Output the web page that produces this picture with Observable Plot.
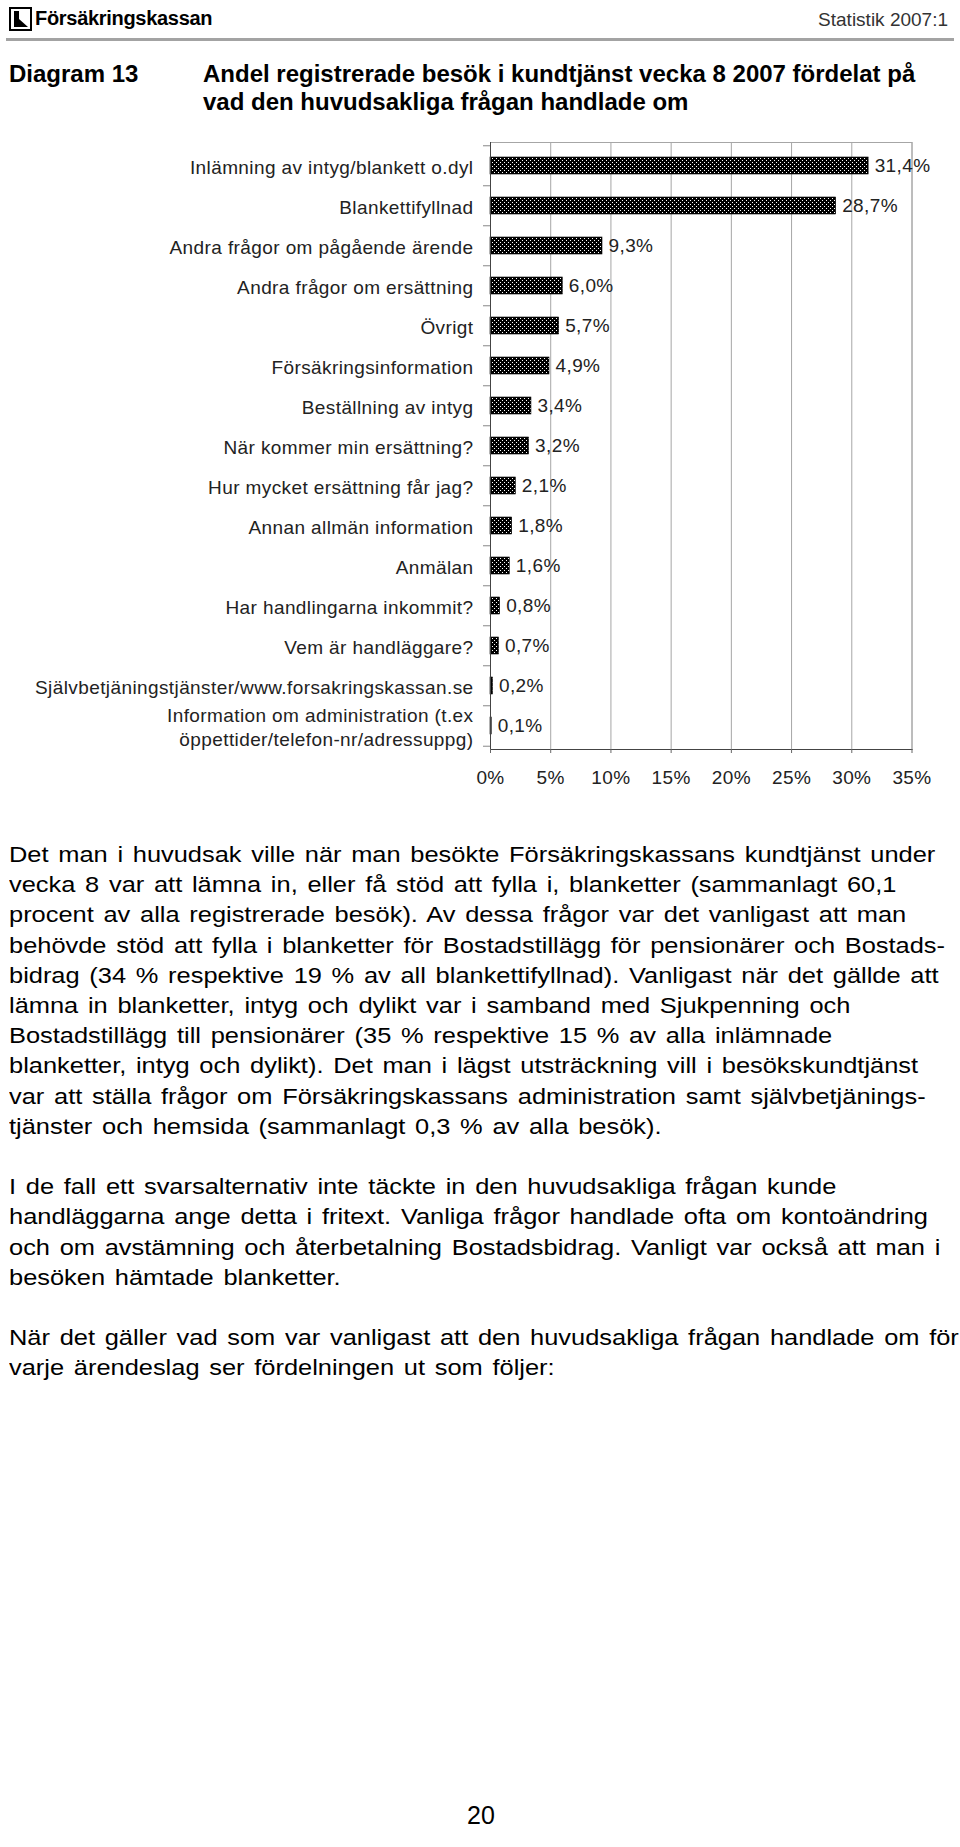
<!DOCTYPE html>
<html><head><meta charset="utf-8">
<script src="https://cdn.jsdelivr.net/npm/d3@7"></script>
<script src="https://cdn.jsdelivr.net/npm/@observablehq/plot@0.6"></script>
<style>
html,body{margin:0;padding:0;background:#fff;}
body{width:960px;height:1847px;position:relative;overflow:hidden;font-family:"Liberation Sans",Arial,Helvetica,sans-serif;color:#000;}
.abs{position:absolute;white-space:nowrap;}
</style></head><body>

<svg class="abs" style="left:9px;top:7px" width="24" height="25" viewBox="0 0 24 25">
  <rect x="1" y="1" width="21" height="22" fill="none" stroke="#000" stroke-width="2"/>
  <polygon points="5,4 10,4 10,12 19,20 5,20" fill="#000"/>
</svg>
<div class="abs" style="left:35px;top:7px;font-size:20px;font-weight:bold;line-height:23px;letter-spacing:-0.3px;">Försäkringskassan</div>
<div class="abs" style="right:12px;top:8px;font-size:19px;line-height:23px;color:#333;">Statistik 2007:1</div>
<div class="abs" style="left:6px;top:38px;width:948px;height:3px;background:#a3a3a3;"></div>

<div class="abs" style="left:9px;top:60px;font-size:24px;font-weight:bold;line-height:28px;">Diagram 13</div>
<div class="abs" style="left:203px;top:60px;font-size:24px;font-weight:bold;line-height:28px;">Andel registrerade besök i kundtjänst vecka 8 2007 fördelat på<br>vad den huvudsakliga frågan handlade om</div>

<div id="chart" class="abs" style="left:0;top:130px;"></div>

<div class="abs" style="left:9px;top:840px;font-size:22px;line-height:30.2px;transform:scaleX(1.155);transform-origin:0 0;word-spacing:2.3px;">
Det man i huvudsak ville när man besökte Försäkringskassans kundtjänst under<br>
vecka 8 var att lämna in, eller få stöd att fylla i, blanketter (sammanlagt 60,1<br>
procent av alla registrerade besök). Av dessa frågor var det vanligast att man<br>
behövde stöd att fylla i blanketter för Bostadstillägg för pensionärer och Bostads-<br>
bidrag (34 % respektive 19 % av all blankettifyllnad). Vanligast när det gällde att<br>
lämna in blanketter, intyg och dylikt var i samband med Sjukpenning och<br>
Bostadstillägg till pensionärer (35 % respektive 15 % av alla inlämnade<br>
blanketter, intyg och dylikt). Det man i lägst utsträckning vill i besökskundtjänst<br>
var att ställa frågor om Försäkringskassans administration samt självbetjänings-<br>
tjänster och hemsida (sammanlagt 0,3 % av alla besök).<br>
<br>
I de fall ett svarsalternativ inte täckte in den huvudsakliga frågan kunde<br>
handläggarna ange detta i fritext. Vanliga frågor handlade ofta om kontoändring<br>
och om avstämning och återbetalning Bostadsbidrag. Vanligt var också att man i<br>
besöken hämtade blanketter.<br>
<br>
När det gäller vad som var vanligast att den huvudsakliga frågan handlade om för<br>
varje ärendeslag ser fördelningen ut som följer:
</div>

<div class="abs" style="left:0;width:962px;text-align:center;top:1801px;font-size:25px;line-height:28px;">20</div>

<script>
const categories = [
  "Inlämning av intyg/blankett o.dyl",
  "Blankettifyllnad",
  "Andra frågor om pågående ärende",
  "Andra frågor om ersättning",
  "Övrigt",
  "Försäkringsinformation",
  "Beställning av intyg",
  "När kommer min ersättning?",
  "Hur mycket ersättning får jag?",
  "Annan allmän information",
  "Anmälan",
  "Har handlingarna inkommit?",
  "Vem är handläggare?",
  "Självbetjäningstjänster/www.forsakringskassan.se",
  "Information om administration (t.ex\nöppettider/telefon-nr/adressuppg)"
];
const values = [31.4, 28.7, 9.3, 6.0, 5.7, 4.9, 3.4, 3.2, 2.1, 1.8, 1.6, 0.8, 0.7, 0.2, 0.1];
const xTicks = [0, 5, 10, 15, 20, 25, 30, 35];

const data = categories.map((c, i) => ({cat: c, value: values[i]}));
const H = 670, MT = 12, MB = 51;
const step = (H - MT - MB) / categories.length;

const plot = Plot.plot({
  width: 960, height: H,
  marginTop: MT, marginBottom: MB, marginLeft: 490, marginRight: 48.5,
  style: {fontFamily: '"Liberation Sans", Arial, sans-serif', fontSize: "19px", color: "#222", background: "transparent"},
  x: {domain: [0, 35], ticks: xTicks, label: null},
  y: {domain: categories, paddingInner: 0.58, paddingOuter: 0.29, label: null},
  marks: [
    Plot.gridX(xTicks.slice(1), {stroke: "#a6a6a6", strokeOpacity: 1}),
    Plot.frame({stroke: "#a6a6a6"}),
    Plot.barX(data, {x: "value", y: "cat", fill: "url(#dots)", stroke: "#000", strokeWidth: 0.6}),
    Plot.ruleX([0], {stroke: "#444"}),
    Plot.frame({anchor: "bottom", stroke: "#444"}),
    Plot.ruleY(categories, {dy: -step / 2, insetLeft: -7, insetRight: 421.5, stroke: "#888"}),
    Plot.ruleY(categories.slice(-1), {dy: step / 2, insetLeft: -7, insetRight: 421.5, stroke: "#888"}),
    Plot.axisX(xTicks, {tickSize: 4, tickPadding: 17, fontSize: 19, stroke: "#666", tickFormat: d => d + "%", label: null}),
    Plot.axisY({tickSize: 0, tickPadding: 17, fontSize: 19, lineHeight: 1.3, label: null}),
    Plot.text(data, {x: "value", y: "cat", text: d => d.value.toFixed(1).replace(".", ",") + "%", dx: 6, textAnchor: "start", fontSize: 19, fill: "#222"})
  ]
});

const svg = plot;
d3.select(svg).style("letter-spacing", "0.4px");
const defs = d3.select(svg).insert("defs", ":first-child");
const p = defs.append("pattern").attr("id", "dots").attr("patternUnits", "userSpaceOnUse").attr("width", 4).attr("height", 4);
p.append("rect").attr("width", 4).attr("height", 4).attr("fill", "#000");
p.append("rect").attr("x", 0).attr("y", 0).attr("width", 1).attr("height", 1).attr("fill", "#fff");
p.append("rect").attr("x", 2).attr("y", 2).attr("width", 1).attr("height", 1).attr("fill", "#fff");
document.getElementById("chart").appendChild(svg);
</script>
</body></html>
